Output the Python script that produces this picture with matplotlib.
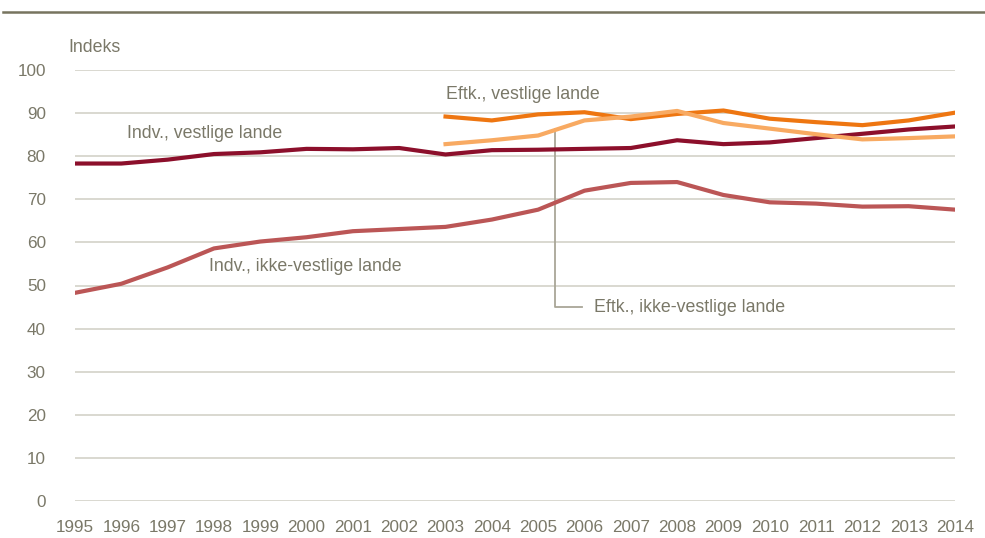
import matplotlib.pyplot as plt
from matplotlib import font_manager
from matplotlib.lines import Line2D

aar = list(range(1995, 2015))
aar_eftk = list(range(2003, 2015))

indv_vest = [78.3, 78.3, 79.2, 80.5, 80.9, 81.7, 81.6, 81.9, 80.4, 81.4,
             81.5, 81.7, 81.9, 83.7, 82.8, 83.2, 84.2, 85.2, 86.2, 86.9]
indv_ikke_vest = [48.3, 50.4, 54.2, 58.6, 60.2, 61.2, 62.6, 63.1, 63.6, 65.3,
                  67.6, 72.0, 73.8, 74.0, 71.0, 69.3, 69.0, 68.3, 68.4, 67.6]
eftk_vest = [89.2, 88.3, 89.7, 90.2, 88.6, 89.8, 90.6, 88.7, 87.9, 87.2, 88.3, 90.1]
eftk_ikke_vest = [82.8, 83.7, 84.8, 88.3, 89.2, 90.5, 87.7, 86.4, 85.1, 83.9, 84.2, 84.6]

yticks = list(range(0, 101, 10))

names = [f.name for f in font_manager.fontManager.ttflist]
fam = 'Liberation Sans Narrow' if 'Liberation Sans Narrow' in names else 'Liberation Sans'
plt.rcParams['font.family'] = [fam, 'DejaVu Sans']

tekst = '#7a7868'
grid = '#d3d2c8'

fig = plt.figure(figsize=(9.85, 5.38), dpi=100)
ax = fig.add_axes([75 / 985, 1 - 501 / 538, 880 / 985, 431 / 538])

for y in yticks:
    ax.axhline(y, color=grid, lw=1.2, zorder=1)

ax.plot(aar, indv_ikke_vest, color='#bb5656', lw=3, zorder=3)
ax.plot(aar, indv_vest, color='#8c0f2b', lw=3, zorder=3)
ax.plot(aar_eftk, eftk_ikke_vest, color='#f8aa62', lw=3, zorder=4)
ax.plot(aar_eftk, eftk_vest, color='#ee7611', lw=3, zorder=3)

# leader line to label
ax.plot([2005.37, 2005.37, 2005.95], [86.2, 45.1, 45.1], color='#a9a697', lw=1.3, zorder=2)

ax.set_xlim(1995, 2014)
ax.set_ylim(0, 100)
ax.set_xticks(aar)
ax.set_yticks(yticks)
ax.tick_params(length=0, labelsize=12.3, labelcolor=tekst)
ax.tick_params(axis='y', pad=21)
ax.tick_params(axis='x', pad=14)
for s in ax.spines.values():
    s.set_visible(False)

kw = dict(fontsize=12.8, color=tekst, va='center', ha='left')
ax.text(1996.12, 85.2, 'Indv., vestlige lande', **kw)
ax.text(2003.0, 94.2, 'Eftk., vestlige lande', **kw)
ax.text(1997.9, 54.3, 'Indv., ikke-vestlige lande', **kw)
ax.text(2006.2, 45.0, 'Eftk., ikke-vestlige lande', **kw)

fig.text(68 / 985, 1 - 47 / 538, 'Indeks', fontsize=12.8, color=tekst, va='center', ha='left')

fig.add_artist(Line2D([3 / 985, 1.0], [1 - 12 / 538, 1 - 12 / 538],
                      color='#77745f', lw=1.8, transform=fig.transFigure))

fig.savefig('out.png', dpi=100)
